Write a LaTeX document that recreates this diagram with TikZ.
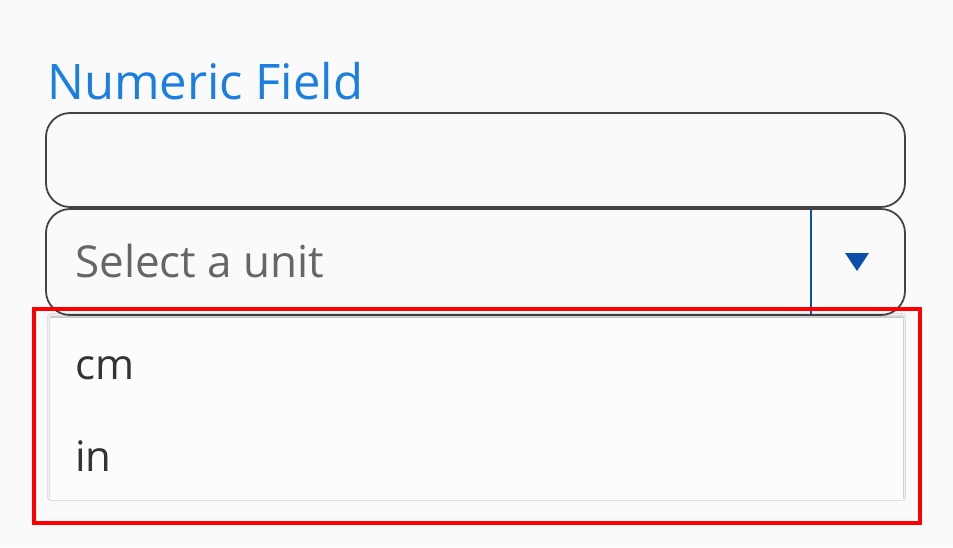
\documentclass[tikz,border=0pt]{standalone}
\usepackage{fontspec}
\setmainfont{Open Sans}
\usetikzlibrary{shadows.blur}
\definecolor{bg}{HTML}{FAFAFA}
\definecolor{lblue}{HTML}{1A7FE0}
\definecolor{dblue}{HTML}{0B4FA8}
\definecolor{bord}{HTML}{444444}
\definecolor{ph}{HTML}{666666}
\definecolor{txt}{HTML}{333333}
\definecolor{panel}{HTML}{FCFCFC}
\tikzset{field/.style={draw=bord,line width=1.8pt,rounded corners=24pt},
 lbl/.style={anchor=base west,inner sep=0pt}}
\begin{document}
\begin{tikzpicture}[x=1pt,y=-1pt]
\fill[bg] (0,0) rectangle (953,547);
\useasboundingbox (0,0) rectangle (953,547);
\node[lbl,text=lblue,font=\fontsize{49}{55}\selectfont] (title) at (47,99) {Numeric Field};
\draw[field,fill=bg] (46,113) rectangle (905,207);
\node (inp) at (475,160) {};
\draw[field,fill=bg] (46,209) rectangle (905,315);
\draw[dblue,line width=1.2pt] (811,210) -- (811,314);
\node[lbl,text=ph,font=\fontsize{44}{50}\selectfont] (sel) at (75,277) {Select a unit};
\fill[dblue] (845,253) -- (869,253) -- (857,271) -- cycle;
\fill[panel,blur shadow={shadow blur steps=8,shadow xshift=0pt,shadow yshift=2pt,shadow opacity=25}] (50,318) rectangle (903,500);
\node[lbl,text=txt,font=\fontsize{42}{50}\selectfont] (cm) at (75,379) {cm};
\node[lbl,text=txt,font=\fontsize{42}{50}\selectfont] (in) at (75,471) {in};
\draw[red,line width=4pt] (34,309) rectangle (920,523);
\end{tikzpicture}
\end{document}
